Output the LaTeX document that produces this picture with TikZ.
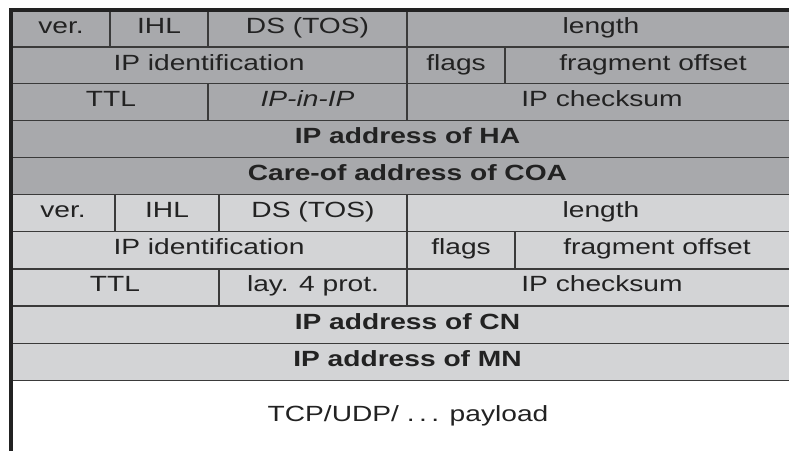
\documentclass[tikz,border=0pt]{standalone}
\usepackage{fontspec}
\setmainfont[FakeStretch=1.28]{Liberation Sans}
\definecolor{hdrdark}{HTML}{A8A9AC}
\definecolor{hdrlight}{HTML}{D3D4D6}
\definecolor{rule}{HTML}{3A3A3A}
\definecolor{ink}{HTML}{222222}
\begin{document}
\begin{tikzpicture}[x=1bp,y=-1bp,
  cell/.style={anchor=base,inner sep=0pt,text=ink,font=\fontsize{22bp}{26bp}\selectfont},
  thinrule/.style={draw=rule,line width=1.5bp},
  border/.style={draw=ink,line width=4bp}]
\useasboundingbox (0,0) rectangle (789,451);
\clip (0,0) rectangle (789,451);
% fills
\fill[hdrdark] (11,10) rectangle (800,194.5);
\fill[hdrlight] (11,194.5) rectangle (800,380.5);
% horizontal rules
\foreach \yy in {47,83.5,120.5,157.5,194.5,231.5,269,306,343.5,380.5}
  \draw[thinrule] (11,\yy) -- (800,\yy);
% vertical rules, outer header
\draw[thinrule] (110,10) -- (110,47);
\draw[thinrule] (208,10) -- (208,47);
\draw[thinrule] (407,10) -- (407,120.5);
\draw[thinrule] (505,47) -- (505,83.5);
\draw[thinrule] (208,83.5) -- (208,120.5);
% vertical rules, inner header
\draw[thinrule] (115,194.5) -- (115,231.5);
\draw[thinrule] (219,194.5) -- (219,231.5);
\draw[thinrule] (407,194.5) -- (407,306);
\draw[thinrule] (515,231.5) -- (515,269);
\draw[thinrule] (219,269) -- (219,306);
% borders
\draw[border] (11.3,451) -- (11.3,10) -- (800,10);
% outer header texts
\node[cell] (over) at (61,33.5) {ver.};
\node[cell] (oihl) at (159,33.5) {IHL};
\node[cell] (ods) at (307.5,33.5) {DS (TOS)};
\node[cell] (olen) at (601,33.5) {length};
\node[cell] (oid) at (209,70.5) {IP identification};
\node[cell] (oflags) at (456,70.5) {flags};
\node[cell] (ofrag) at (653,70.5) {fragment offset};
\node[cell] (ottl) at (111,107) {TTL};
\node[cell] (oproto) at (307.5,107) {\itshape IP-in-IP};
\node[cell] (ocs) at (602,107) {IP checksum};
\node[cell] (oha) at (407.5,144) {\bfseries IP address of HA};
\node[cell] (ocoa) at (407.5,181) {\bfseries Care-of address of COA};
% inner header texts
\node[cell] (iver) at (63,218) {ver.};
\node[cell] (iihl) at (167,218) {IHL};
\node[cell] (ids) at (313,218) {DS (TOS)};
\node[cell] (ilen) at (601,218) {length};
\node[cell] (iid) at (209,255) {IP identification};
\node[cell] (iflags) at (461,255) {flags};
\node[cell] (ifrag) at (657,255) {fragment offset};
\node[cell] (ittl) at (115,292) {TTL};
\node[cell] (iproto) at (313,292) {lay. 4 prot.};
\node[cell] (ics) at (602,292) {IP checksum};
\node[cell] (icn) at (407.5,329.5) {\bfseries IP address of CN};
\node[cell] (imn) at (407.5,366.5) {\bfseries IP address of MN};
% payload
\node[cell] (pay) at (408,421.7) {TCP/UDP/ .\kern4.5bp.\kern4.5bp. payload};
\end{tikzpicture}
\end{document}
